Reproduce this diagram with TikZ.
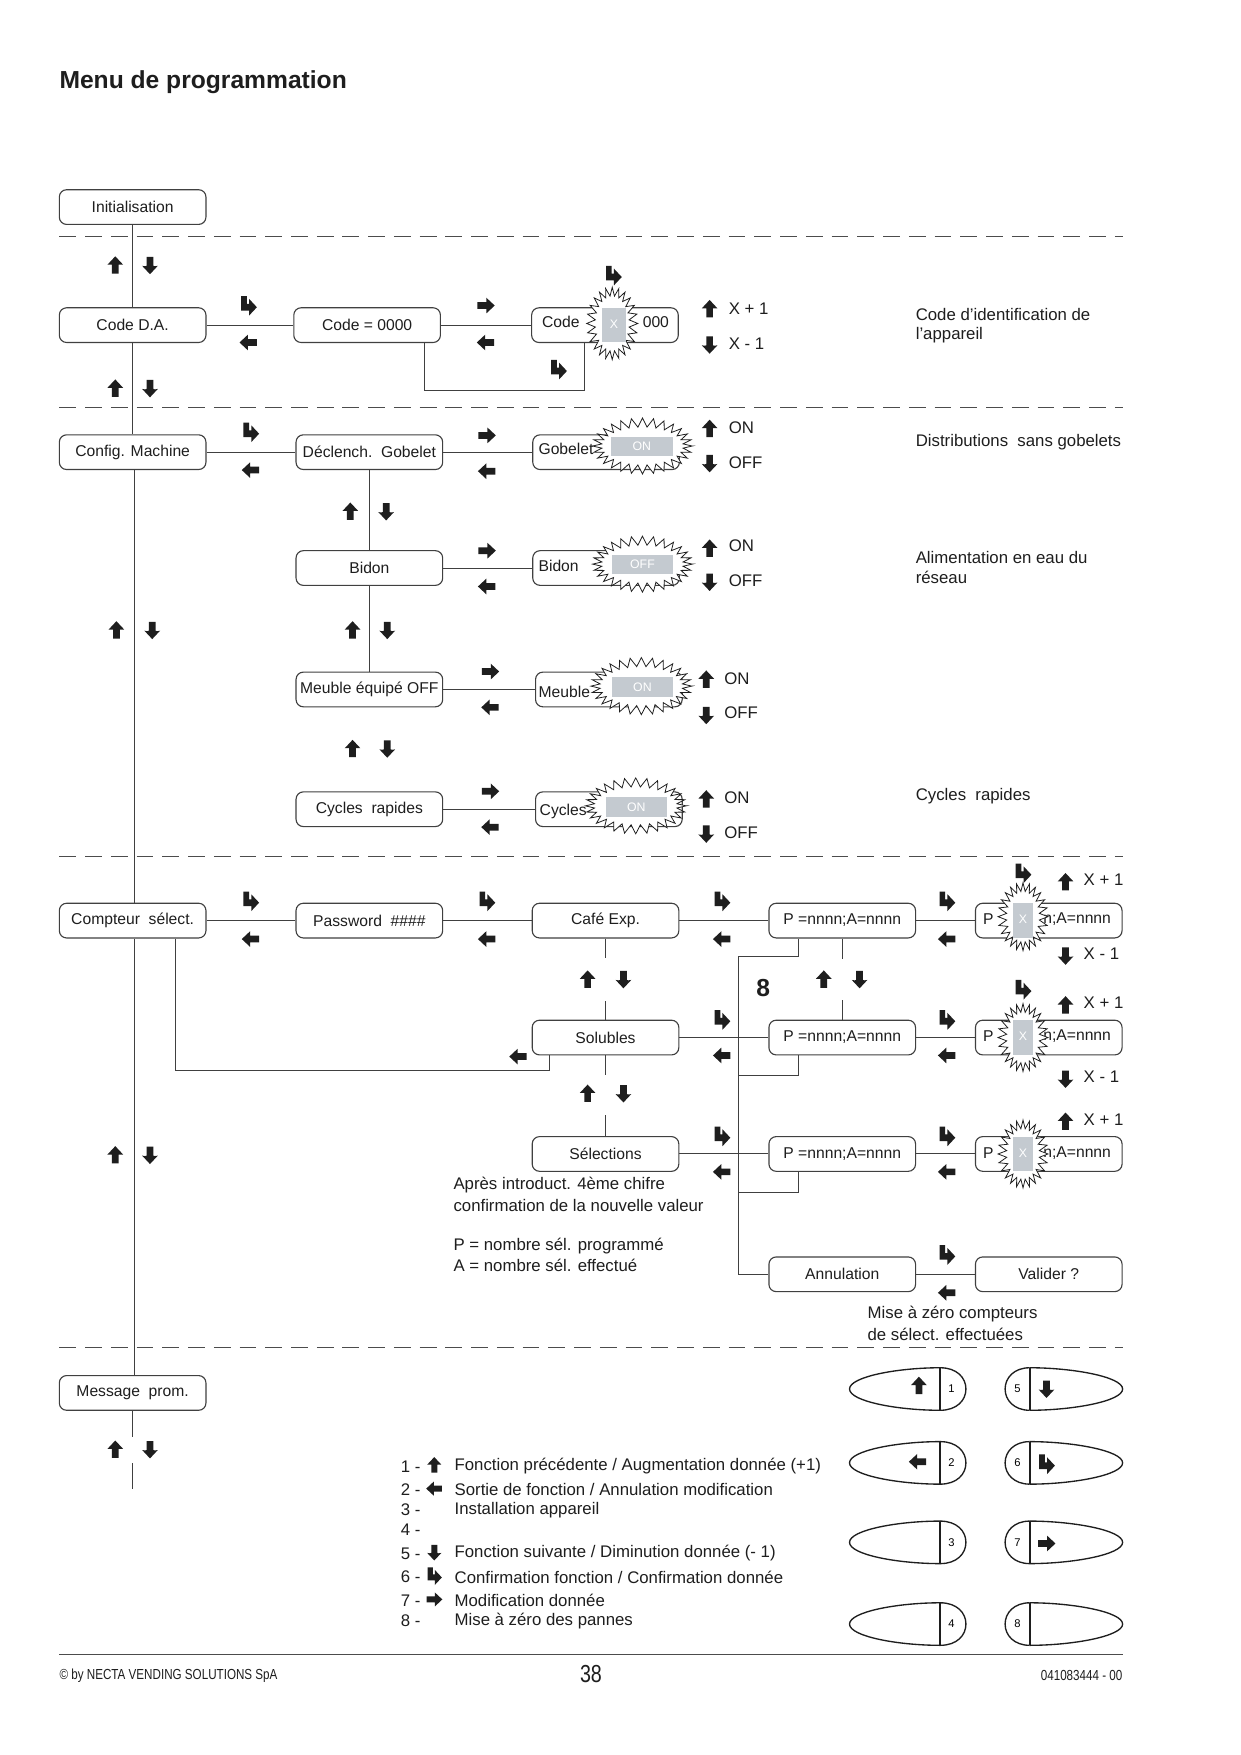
\documentclass[tikz,border=0pt]{standalone}
\usepackage{fontspec}
\setmainfont{Liberation Sans}
\newfontfamily\condfont[FakeStretch=0.8]{Liberation Sans}
\usetikzlibrary{calc}
\definecolor{graybox}{RGB}{196,202,208}
\definecolor{ink}{RGB}{30,30,30}
\tikzset{
 box/.style={draw=black!75, line width=1pt, rounded corners=6.5pt, minimum width=131pt, minimum height=31pt, inner sep=0pt, font=\fontsize{14}{16}\selectfont, text=ink},
 conn/.style={draw=black!75, line width=0.9pt},
 sepline/.style={draw=black!70, line width=1pt, dash pattern=on 15pt off 8pt},
 lbl/.style={font=\fontsize{15}{18}\selectfont, text=ink, inner sep=0pt},
 blbl/.style={font=\fontsize{14}{16}\selectfont, text=ink, inner sep=0pt},
 glbl/.style={font=\fontsize{11}{13}\selectfont, text=white, inner sep=0pt},
 btn/.style={draw=ink, line width=1.2pt},
 pup/.pic={\fill[ink] (0,-8)--(7,-0.5)--(3,-0.5)--(3,7.5)--(-3,7.5)--(-3,-0.5)--(-7,-0.5)--cycle;},
 pdown/.pic={\fill[ink] (0,8)--(7,0.5) .. controls (4,1) .. (3,0.5)--(3,-7.5)--(-3,-7.5)--(-3,0.5) .. controls (-4,1) .. (-7,0.5)--cycle;},
 pleft/.pic={\fill[ink] (-8,0)--(-0.5,-7)--(-0.5,-3)--(7.5,-3)--(7.5,3)--(-0.5,3)--(-0.5,7)--cycle;},
 pright/.pic={\fill[ink] (8,0)--(0.5,-7)--(0.5,-3)--(-7.5,-3)--(-7.5,3)--(0.5,3)--(0.5,7)--cycle;},
 pok/.pic={\fill[ink] (-6.5,-8.5)--(-1.5,-8.5)--(-1.5,-1.5)--(0.5,-1.5)--(0.5,-6)--(7.5,1.5)--(0.5,9)--(0.5,4.5)--(-6.5,4.5)--cycle;},
}
\newcommand\zigburst[7]{\filldraw[fill=white,draw=ink,line width=0.7pt] plot[variable=\t,domain=0:360,samples=#7] ({#1+(#3+#5*cos(#6*\t))*cos(\t)},{#2+(#4+#5*cos(#6*\t))*sin(\t)}) -- cycle;}
\newcommand\lbtn[2]{%
\begin{scope}[shift={(#1,#2)}]
 \draw[btn] (0,-19) .. controls (-38,-19) and (-81,-11) .. (-81,0) .. controls (-81,11) and (-38,19) .. (0,19);
 \draw[btn] (0,-19) .. controls (15,-19) and (23,-10) .. (23,0) .. controls (23,10) and (15,19) .. (0,19);
 \draw[ink, line width=2.2pt] (0,-19) -- (0,19);
\end{scope}}
\newcommand\rbtn[2]{%
\begin{scope}[shift={(#1,#2)}]
 \draw[btn] (0,-19) .. controls (38,-19) and (83,-11) .. (83,0) .. controls (83,11) and (38,19) .. (0,19);
 \draw[btn] (0,-19) .. controls (-14,-19) and (-22,-10) .. (-22,0) .. controls (-22,10) and (-14,19) .. (0,19);
 \draw[ink, line width=2.2pt] (0,-19) -- (0,19);
\end{scope}}
\begin{document}
\begin{tikzpicture}[x=1pt,y=-1pt]
\useasboundingbox (0,0) rectangle (1108,1568);
\fill[white] (0,0) rectangle (1108,1568);

\node[anchor=west, inner sep=0pt, font=\bfseries\fontsize{22}{26}\selectfont, text=ink] (title) at (53,73) {Menu de programmation};

% separators
\draw[sepline] (53,211) -- (1003,211);
\draw[sepline] (53,364) -- (1003,364);
\draw[sepline] (53,765) -- (1003,765);
\draw[sepline] (53,1204) -- (1003,1204);

% ---------- boxes
\node[box] (init) at (118.5,185) {Initialisation};
\node[box] (codeda) at (118.5,290.5) {Code D.A.};
\node[box] (code0) at (328,290.5) {Code = 0000};
\node[box] (codex) at (540.5,290.5) {};
\node[box] (config) at (118.5,404) {Config. Machine};
\node[box] (declench) at (330,404) {Déclench.\ \ Gobelet};
\node[box] (gob) at (541.5,404) {};
\node[box] (bidon) at (330,507.5) {Bidon};
\node[box] (bidx) at (541.5,507.5) {};
\node[box] (meuble) at (330,616) {Meuble équipé OFF};
\node[box] (meux) at (544,616) {};
\node[box] (cycles) at (330,723) {Cycles\ \ rapides};
\node[box] (cycx) at (544,723) {};
\node[box] (compteur) at (118.5,822.5) {Compteur\ \ sélect.};
\node[box] (pwd) at (330,822.5) {Password\ \ \#\#\#\#};
\node[box] (cafe) at (541,822.5) {Café Exp.};
\node[box] (p1) at (752.5,822.5) {P =nnnn;A=nnnn};
\node[box] (px1) at (937,822.5) {};
\node[box] (sol) at (541,927) {Solubles};
\node[box] (p2) at (752.5,927) {P =nnnn;A=nnnn};
\node[box] (px2) at (937,927) {};
\node[box] (sel) at (541,1031) {Sélections};
\node[box] (p3) at (752.5,1031) {P =nnnn;A=nnnn};
\node[box] (px3) at (937,1031) {};
\node[box] (annul) at (752.5,1138.5) {Annulation};
\node[box] (valid) at (937,1138.5) {Valider ?};
\node[box] (msg) at (118.5,1244.5) {Message\ \ prom.};

% ---------- connectors
\draw[conn] (init) -- (codeda);
\draw[conn] (codeda) -- (config);
\draw[conn] ([xshift=1.5pt]config.south) -- ([xshift=1.5pt]compteur.north);
\draw[conn] ([xshift=1.5pt]compteur.south) -- ([xshift=1.5pt]msg.north);
\draw[conn] (msg.south) -- ++(0,23);
\draw[conn] (msg.south) ++(0,47) -- ++(0,23);

\draw[conn] (codeda) -- (code0);
\draw[conn] (code0) -- (codex);
\draw[conn] ([xshift=51pt]code0.south) -- ++(0,42) -| ([xshift=-18.5pt]codex.south);

\draw[conn] (config) -- (declench);
\draw[conn] (declench) -- (gob);
\draw[conn] (declench) -- (bidon);
\draw[conn] (bidon) -- (bidx);
\draw[conn] (bidon) -- (meuble);
\draw[conn] (meuble) -- (meux);
\draw[conn] (cycles) -- (cycx);

\draw[conn] (compteur) -- (pwd);
\draw[conn] (pwd) -- (cafe);
\draw[conn] (cafe) -- (p1);
\draw[conn] (p1) -- (px1);
\draw[conn] (sol) -- (p2);
\draw[conn] (p2) -- (px2);
\draw[conn] (sel) -- (p3);
\draw[conn] (p3) -- (px3);
\draw[conn] (annul) -- (valid);
\draw[conn] ([xshift=38.5pt]compteur.south) |- (157,956) -| ([xshift=-50pt]sol.south);
\draw[conn] (cafe.south) -- ++(0,17);
\draw[conn] (sol.north) -- ++(0,-17);
\draw[conn] (sol.south) -- ++(0,17);
\draw[conn] (sel.north) -- ++(0,-19);
\draw[conn] (p1.south) -- ++(0,18);
\draw[conn] (p2.north) -- ++(0,-18);
\draw[conn] ([xshift=-39.5pt]p1.south) |- (660,855) |- (annul.west);
\draw[conn] ([xshift=-39.5pt]p2.south) |- (660,961);
\draw[conn] ([xshift=-39.5pt]p3.south) |- (660,1065);

% ---------- texts inside compound boxes
\node[blbl] (tcode) at (501,288) {Code};
\node[blbl] (t000) at (586,288) {000};
\node[blbl, anchor=west] (tgob) at (481,401) {Gobelet};
\node[blbl, anchor=west] (tbid) at (481,506) {Bidon};
\node[blbl, anchor=west] (tmeu) at (481,618) {Meuble};
\node[blbl, anchor=west] (tcyc) at (482,725) {Cycles};
\node[blbl] (tp1) at (883,821) {P};
\node[blbl, anchor=west] (tn1) at (932,821) {n;A=nnnn};
\node[blbl] (tp2) at (883,926) {P};
\node[blbl, anchor=west] (tn2) at (932,926) {n;A=nnnn};
\node[blbl] (tp3) at (883,1030) {P};
\node[blbl, anchor=west] (tn3) at (932,1030) {n;A=nnnn};

% ---------- star bursts
\zigburst{547}{289}{19}{28.5}{3.8}{24}{49}
\fill[graybox] (538,275) rectangle (559,306);
\node[glbl] (gx0) at (548.5,290) {X};

\zigburst{574}{398.5}{40.5}{21}{4}{28}{57}
\fill[graybox] (546,390) rectangle (601,407);
\node[glbl] (gon1) at (573.5,398.5) {ON};

\zigburst{574}{504}{40.5}{21}{4}{28}{57}
\fill[graybox] (547,496) rectangle (601,513);
\node[glbl] (goff) at (574,504.5) {OFF};

\zigburst{573}{613}{41}{21.5}{4}{28}{57}
\fill[graybox] (547,605) rectangle (601,623);
\node[glbl] (gon2) at (574,614) {ON};

\zigburst{568}{720}{41}{21}{4}{28}{57}
\fill[graybox] (541,712) rectangle (596,730);
\node[glbl] (gon3) at (568.5,721) {ON};

\zigburst{914}{819}{18.5}{26.5}{3.8}{24}{49}
\fill[graybox] (905,807) rectangle (923,838);
\node[glbl] (gx1) at (914,821) {X};

\zigburst{914}{927}{18.5}{26.5}{3.8}{24}{49}
\fill[graybox] (905,911.5) rectangle (923,942.5);
\node[glbl] (gx2) at (914,926) {X};

\zigburst{914}{1031}{18.5}{26.5}{3.8}{24}{49}
\fill[graybox] (905,1015.5) rectangle (923,1046.5);
\node[glbl] (gx3) at (914,1030) {X};

% ---------- arrow icons
\pic at (103,237) {pup}; \pic at (134,237) {pdown};
\pic at (103,347) {pup}; \pic at (134,347) {pdown};
\pic at (104,563) {pup}; \pic at (136,563) {pdown};
\pic at (103,1032) {pup}; \pic at (134,1032) {pdown};
\pic at (103,1295) {pup}; \pic at (134,1295) {pdown};

\pic at (222,273) {pok}; \pic at (222,306) {pleft};
\pic at (434,273) {pright}; \pic at (434,306) {pleft};
\pic at (548,246) {pok}; \pic at (499,330) {pok};
\pic at (634,276) {pup}; \pic at (634,308) {pdown};

\pic at (224,386) {pok}; \pic at (224,420) {pleft};
\pic at (435,389) {pright}; \pic at (435,421) {pleft};
\pic at (634,383) {pup}; \pic at (634,414) {pdown};
\pic at (313,457) {pup}; \pic at (345,457) {pdown};
\pic at (435,492) {pright}; \pic at (435,524) {pleft};
\pic at (634,490) {pup}; \pic at (634,520) {pdown};
\pic at (315,563) {pup}; \pic at (346,563) {pdown};
\pic at (438,600) {pright}; \pic at (438,632) {pleft};
\pic at (631,607) {pup}; \pic at (631,639) {pdown};
\pic at (315,669) {pup}; \pic at (346,669) {pdown};
\pic at (438,707) {pright}; \pic at (438,739) {pleft};
\pic at (631,714) {pup}; \pic at (631,745) {pdown};

\pic at (224,805) {pok}; \pic at (224,839) {pleft};
\pic at (435,805) {pok}; \pic at (435,839) {pleft};
\pic at (645,805) {pok}; \pic at (645,839) {pleft};
\pic at (846,805) {pok}; \pic at (846,839) {pleft};
\pic at (914,780) {pok}; \pic at (952,788) {pup}; \pic at (952,854) {pdown};
\pic at (525,875) {pup}; \pic at (557,875) {pdown};
\pic at (736,875) {pup}; \pic at (768,875) {pdown};
\pic at (463,944) {pleft};
\pic at (645,911) {pok}; \pic at (645,943) {pleft};
\pic at (846,911) {pok}; \pic at (846,943) {pleft};
\pic at (914,884) {pok}; \pic at (952,898) {pup}; \pic at (952,964) {pdown};
\pic at (525,977) {pup}; \pic at (557,977) {pdown};
\pic at (645,1015) {pok}; \pic at (645,1047) {pleft};
\pic at (846,1015) {pok}; \pic at (846,1047) {pleft};
\pic at (952,1002) {pup};
\pic at (846,1121) {pok}; \pic at (846,1155) {pleft};

% ---------- side labels
\node[lbl, anchor=west] (xp0) at (651,276) {X + 1};
\node[lbl, anchor=west] (xm0) at (651,307) {X - 1};
\node[lbl, anchor=west] (on1) at (651,382) {ON};
\node[lbl, anchor=west] (off1) at (651,413) {OFF};
\node[lbl, anchor=west] (on2) at (651,488) {ON};
\node[lbl, anchor=west] (off2) at (651,519) {OFF};
\node[lbl, anchor=west] (on3) at (647,606) {ON};
\node[lbl, anchor=west] (off3) at (647,637) {OFF};
\node[lbl, anchor=west] (on4) at (647,713) {ON};
\node[lbl, anchor=west] (off4) at (647,744) {OFF};
\node[lbl, anchor=west] (xp1) at (968,786) {X + 1};
\node[lbl, anchor=west] (xm1) at (968,852) {X - 1};
\node[lbl, anchor=west] (xp2) at (968,896) {X + 1};
\node[lbl, anchor=west] (xm2) at (968,962) {X - 1};
\node[lbl, anchor=west] (xp3) at (968,1000) {X + 1};
\node[inner sep=0pt, font=\bfseries\fontsize{22}{26}\selectfont, text=ink] (eight) at (682,883) {8};

\node[lbl, anchor=west] (d1a) at (818,281) {Code d'identification de};
\node[lbl, anchor=west] (d1b) at (818,299) {l'appareil};
\node[lbl, anchor=west] (d2) at (818,395) {Distributions\ \ sans gobelets};
\node[lbl, anchor=west] (d3a) at (818,498) {Alimentation en eau du};
\node[lbl, anchor=west] (d3b) at (818,516) {réseau};
\node[lbl, anchor=west] (d4) at (818,711) {Cycles\ \ rapides};

\node[lbl, anchor=west] (n1) at (405,1059) {Après introduct. 4ème chifre};
\node[lbl, anchor=west] (n2) at (405,1077) {confirmation de la nouvelle valeur};
\node[lbl, anchor=west] (n3) at (405,1113) {P = nombre sél. programmé};
\node[lbl, anchor=west] (n4) at (405,1131) {A = nombre sél. effectué};
\node[lbl, anchor=west] (m1) at (775,1174) {Mise à zéro compteurs};
\node[lbl, anchor=west] (m2) at (775,1192) {de sélect. effectuées};

% ---------- legend
\node[lbl, anchor=west] (k1) at (358,1310) {1 -};
\node[lbl, anchor=west] (k2) at (358,1331) {2 -};
\node[lbl, anchor=west] (k3) at (358,1349) {3 -};
\node[lbl, anchor=west] (k4) at (358,1367) {4 -};
\node[lbl, anchor=west] (k5) at (358,1388) {5 -};
\node[lbl, anchor=west] (k6) at (358,1409) {6 -};
\node[lbl, anchor=west] (k7) at (358,1430) {7 -};
\node[lbl, anchor=west] (k8) at (358,1448) {8 -};
\pic[scale=0.9] at (388,1309) {pup};
\pic[scale=0.9] at (388,1330) {pleft};
\pic[scale=0.9] at (388,1387) {pdown};
\pic[scale=0.9] at (388,1408) {pok};
\pic[scale=0.9] at (388,1429) {pright};
\node[lbl, anchor=west] (l1) at (406,1310) {Fonction précédente / Augmentation donnée (+1)};
\node[lbl, anchor=west] (l2) at (406,1331) {Sortie de fonction / Annulation modification};
\node[lbl, anchor=west] (l3) at (406,1349) {Installation appareil};
\node[lbl, anchor=west] (l5) at (406,1388) {Fonction suivante / Diminution donnée (- 1)};
\node[lbl, anchor=west] (l6) at (406,1409) {Confirmation fonction / Confirmation donnée};
\node[lbl, anchor=west] (l7) at (406,1430) {Modification donnée};
\node[lbl, anchor=west] (l8) at (406,1448) {Mise à zéro des pannes};

% ---------- keypad
\lbtn{840}{1241} \lbtn{840}{1307} \lbtn{840}{1378} \lbtn{840}{1451}
\rbtn{920}{1241} \rbtn{920}{1307} \rbtn{920}{1378} \rbtn{920}{1451}
\node[font=\fontsize{10}{12}\selectfont, inner sep=0pt] (b1) at (850,1241) {1};
\node[font=\fontsize{10}{12}\selectfont, inner sep=0pt] (b2) at (850,1307) {2};
\node[font=\fontsize{10}{12}\selectfont, inner sep=0pt] (b3) at (850,1378) {3};
\node[font=\fontsize{10}{12}\selectfont, inner sep=0pt] (b4) at (850,1451) {4};
\node[font=\fontsize{10}{12}\selectfont, inner sep=0pt] (b5) at (909,1241) {5};
\node[font=\fontsize{10}{12}\selectfont, inner sep=0pt] (b6) at (909,1307) {6};
\node[font=\fontsize{10}{12}\selectfont, inner sep=0pt] (b7) at (909,1378) {7};
\node[font=\fontsize{10}{12}\selectfont, inner sep=0pt] (b8) at (909,1451) {8};
\pic at (821,1238) {pup};
\pic at (820,1306) {pleft};
\pic at (935,1241) {pdown};
\pic at (935,1308) {pok};
\pic at (935,1379) {pright};

% ---------- footer
\draw[black!70, line width=1pt] (53,1478) -- (1003,1478);
\node[anchor=west, inner sep=0pt, font=\condfont\fontsize{13}{15}\selectfont, text=ink] (f1) at (53,1497) {© by NECTA VENDING SOLUTIONS SpA};
\node[inner sep=0pt, font=\condfont\fontsize{22}{26}\selectfont, text=ink] (f2) at (528,1496) {38};
\node[anchor=east, inner sep=0pt, font=\condfont\fontsize{13}{15}\selectfont, text=ink] (f3) at (1003,1497) {041083444 - 00};
\end{tikzpicture}
\end{document}
